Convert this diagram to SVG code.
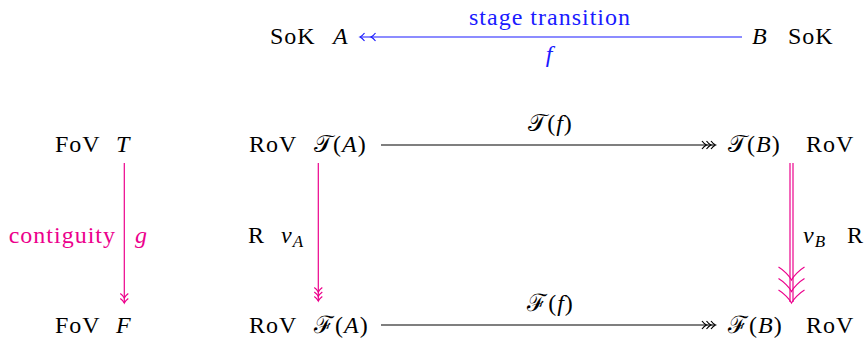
<svg xmlns="http://www.w3.org/2000/svg" xmlns:xlink="http://www.w3.org/1999/xlink" width="865" height="344" viewBox="0 0 865 344">
<style>
.t{font-family:"Liberation Serif","DejaVu Serif",serif;font-size:24px;letter-spacing:1px;fill:#000}
.i{font-style:italic}
.sub{font-size:17px}
.blue{fill:#1a1aff}
.pink{fill:#ec008c}
.ln{fill:none;stroke-width:1.2}
.k{stroke:#000}
.b{stroke:#1a1aff}
.p{stroke:#ec008c}
</style>
<defs>
<path id="chev" d="M-4.5,-4 C-3,-2 -1.2,-0.5 0,0 C-1.2,0.5 -3,2 -4.5,4" fill="none"/>
<path id="chevBig" d="M-13,-13 C-8,-10 -2,-4 0,0 C2,-4 8,-10 13,-13" fill="none"/>
</defs>
<rect width="865" height="344" fill="#fff"/>
<g id="connectors">
  <g id="e-f" class="ln b">
    <line x1="361" y1="37" x2="742" y2="37"/>
    <use xlink:href="#chev" transform="translate(360,37) rotate(180)"/>
    <use xlink:href="#chev" transform="translate(371,37) rotate(180)"/>
  </g>
  <g id="e-Tf" class="ln k">
    <line x1="381" y1="145" x2="715" y2="145"/>
    <use xlink:href="#chev" transform="translate(706.5,145)"/>
    <use xlink:href="#chev" transform="translate(711,145)"/>
    <use xlink:href="#chev" transform="translate(715.5,145)"/>
  </g>
  <g id="e-Ff" class="ln k">
    <line x1="381" y1="325" x2="715" y2="325"/>
    <use xlink:href="#chev" transform="translate(706.5,325)"/>
    <use xlink:href="#chev" transform="translate(711,325)"/>
    <use xlink:href="#chev" transform="translate(715.5,325)"/>
  </g>
  <g id="e-g" class="ln p">
    <line x1="124.3" y1="163" x2="124.3" y2="303"/>
    <use xlink:href="#chev" transform="translate(124.3,298) rotate(90)"/>
    <use xlink:href="#chev" transform="translate(124.3,303) rotate(90)"/>
  </g>
  <g id="e-nuA" class="ln p">
    <line x1="318.3" y1="163" x2="318.3" y2="301"/>
    <use xlink:href="#chev" transform="translate(318.3,292) rotate(90)"/>
    <use xlink:href="#chev" transform="translate(318.3,296.5) rotate(90)"/>
    <use xlink:href="#chev" transform="translate(318.3,301) rotate(90)"/>
  </g>
  <g id="e-nuB" class="ln p">
    <line x1="790" y1="163" x2="790" y2="302"/>
    <line x1="793" y1="163" x2="793" y2="302"/>
    <use xlink:href="#chevBig" transform="translate(791.5,280)"/>
    <use xlink:href="#chevBig" transform="translate(791.5,291.5)"/>
    <use xlink:href="#chevBig" transform="translate(791.5,303)"/>
  </g>
  <g id="labels">
    <text class="t blue" x="550" y="25" text-anchor="middle">stage transition</text>
    <text class="t blue i" x="549.5" y="62" text-anchor="middle">f</text>
    <text class="t" x="550.5" y="131" text-anchor="middle">𝒯(<tspan class="i">f</tspan>)</text>
    <text class="t" x="550.5" y="311" text-anchor="middle">ℱ(<tspan class="i">f</tspan>)</text>
    <text class="t pink" x="116" y="243" text-anchor="end">contiguity</text>
    <text class="t pink i" x="135" y="243">g</text>
    <text class="t" x="248" y="243">R</text>
    <text class="t i" x="281" y="243">ν<tspan class="sub" dy="4">A</tspan></text>
    <text class="t i" x="803" y="243">ν<tspan class="sub" dy="4">B</tspan></text>
    <text class="t" x="847" y="243">R</text>
  </g>
</g>
<g id="node-A"><text class="t" x="270" y="44">SoK</text><text class="t i" x="333" y="44">A</text></g>
<g id="node-B"><text class="t i" x="752" y="44">B</text><text class="t" x="788" y="44">SoK</text></g>
<g id="node-T"><text class="t" x="55" y="152">FoV</text><text class="t i" x="116" y="152">T</text></g>
<g id="node-F"><text class="t" x="55" y="333">FoV</text><text class="t i" x="116" y="333">F</text></g>
<g id="node-TA"><text class="t" x="249" y="152">RoV</text><text class="t" x="314" y="152">𝒯(<tspan class="i">A</tspan>)</text></g>
<g id="node-FA"><text class="t" x="249" y="333">RoV</text><text class="t" x="314" y="333">ℱ(<tspan class="i">A</tspan>)</text></g>
<g id="node-TB"><text class="t" x="728" y="152">𝒯(<tspan class="i">B</tspan>)</text><text class="t" x="806" y="152">RoV</text></g>
<g id="node-FB"><text class="t" x="728" y="333">ℱ(<tspan class="i">B</tspan>)</text><text class="t" x="806" y="333">RoV</text></g>
</svg>
